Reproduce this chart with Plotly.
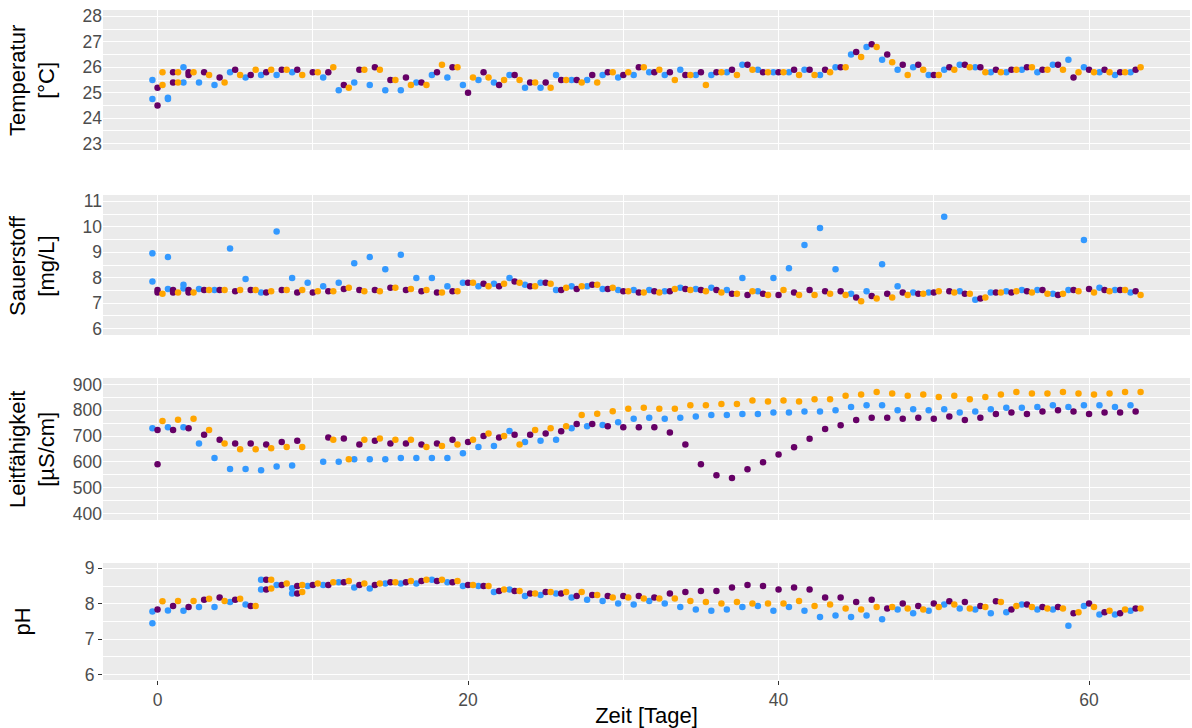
import plotly.graph_objects as go

# ---- data: daily readings (day 0 .. 63) for three sampling runs -------------
days = list(range(64))

# sampling runs: fraction of a day relative to the nominal day
run_shift = {"blue": -0.33, "purple": 0.0, "orange": 0.32}

temp_blue = [25.5, 24.8, 26.0, 25.4, 25.3, 25.8, 25.6, 25.7, 25.7, 25.8,
             None, 25.6, 25.1, 25.4, 25.3, 25.1, 25.1, 25.4, 25.7, 25.6,
             25.3, 25.5, 25.4, 25.7, 25.2, 25.2, 25.7, 25.5, 25.5, 25.7,
             25.6, 25.7, 25.8, 25.7, 25.9, 25.7, 25.7, 25.8, 26.1, 25.9,
             25.8, 25.8, 25.9, 25.7, 26.0, 26.5, 26.8, 26.3, 25.9, 26.0,
             25.7, 25.9, 26.1, 26.0, 25.8, 25.8, 25.9, 25.8, 26.1, 26.3,
             26.0, 25.8, 25.7, 25.8]
temp_purple = [25.2, 25.8, 25.8, 25.8, 25.6, 25.9, 25.7, 25.8, 25.9, 25.9,
               25.8, 25.8, 25.3, 25.9, 26.0, 25.5, 25.6, 25.4, 25.8, 26.0,
               25.0, 25.8, 25.3, 25.7, 25.4, 25.4, 25.5, 25.5, 25.7, 25.8,
               25.7, 26.0, 25.8, 25.8, 25.7, 25.8, 25.8, 25.9, 26.1, 25.8,
               25.8, 25.9, 25.9, 25.9, 26.0, 26.6, 26.9, 26.5, 26.1, 26.1,
               25.7, 26.0, 26.1, 26.0, 25.9, 25.9, 26.0, 25.9, 26.1, 25.6,
               25.9, 25.9, 25.8, 25.9]
temp_orange = [25.8, 25.8, 25.8, 25.7, 25.4, 25.7, 25.9, 25.9, 25.9, 25.7,
               25.8, 26.0, 25.2, 25.9, 25.9, 25.5, 25.3, 25.3, 26.1, 26.0,
               25.6, 25.6, 25.5, 25.5, 25.4, 25.2, 25.5, 25.4, 25.4, 25.8,
               25.8, 26.0, 25.9, 25.5, 25.7, 25.3, 25.8, 25.7, 25.9, 25.8,
               25.8, 25.7, 25.7, 25.8, 26.0, 26.4, 26.8, 26.2, 25.7, 25.9,
               25.7, 25.9, 26.0, 25.8, 25.8, 25.9, 26.0, 25.9, 25.9, 25.8,
               25.8, 25.8, 25.8, 26.0]
# repeated readings on single days: {day: value}
temp_blue_rep = {0: 24.75, 1: 24.75, 2: 25.4}
temp_purple_rep = {0: 24.5, 1: 25.4, 2: 25.7}
temp_orange_rep = {0: 25.3, 1: 25.4}

oxy_blue = [8.96, 8.81, 7.72, 7.56, 7.52, 9.15, 7.95, 7.42, 9.82, 7.99,
            7.80, 7.67, 7.80, 8.57, 8.81, 8.33, 8.90, 7.99, 7.99, 7.67,
            7.80, 7.67, 7.76, 7.99, 7.72, 7.80, 7.52, 7.67, 7.67, 7.56,
            7.52, 7.52, 7.52, 7.47, 7.61, 7.56, 7.61, 7.52, 7.99, 7.47,
            7.99, 8.37, 9.29, 9.95, 8.33, 7.37, 7.47, 8.53, 7.67, 7.42,
            7.42, 10.40, 7.47, 7.13, 7.42, 7.47, 7.52, 7.52, 7.37, 7.52,
            9.48, 7.61, 7.52, 7.42]
oxy_purple = [7.52, 7.52, 7.52, 7.52, 7.52, 7.47, 7.52, 7.42, 7.52, 7.42,
              7.42, 7.47, 7.56, 7.52, 7.52, 7.61, 7.52, 7.47, 7.42, 7.47,
              7.80, 7.76, 7.67, 7.85, 7.67, 7.80, 7.52, 7.56, 7.72, 7.56,
              7.47, 7.42, 7.47, 7.47, 7.56, 7.52, 7.52, 7.37, 7.32, 7.37,
              7.32, 7.42, 7.52, 7.47, 7.47, 7.22, 7.28, 7.37, 7.42, 7.37,
              7.42, 7.47, 7.37, 7.18, 7.42, 7.42, 7.47, 7.52, 7.32, 7.52,
              7.56, 7.52, 7.52, 7.47]
oxy_orange = [7.37, 7.42, 7.42, 7.52, 7.52, 7.52, 7.52, 7.47, 7.52, 7.52,
              7.47, 7.47, 7.61, 7.47, 7.47, 7.61, 7.56, 7.52, 7.42, 7.47,
              7.80, 7.67, 7.76, 7.80, 7.67, 7.76, 7.61, 7.67, 7.72, 7.61,
              7.47, 7.42, 7.42, 7.56, 7.52, 7.47, 7.42, 7.37, 7.47, 7.32,
              7.52, 7.32, 7.32, 7.37, 7.32, 7.08, 7.18, 7.22, 7.32, 7.37,
              7.47, 7.42, 7.37, 7.22, 7.42, 7.47, 7.42, 7.37, 7.37, 7.47,
              7.42, 7.47, 7.52, 7.32]
oxy_blue_rep = {0: 7.85, 1: 7.56, 2: 7.58}
oxy_purple_rep = {0: 7.42, 1: 7.42, 2: 7.42}
oxy_orange_rep = {}

cond_blue = [730, 734, 734, 671, 615, 573, 573, 568, 582, 586,
             None, 601, 601, 610, 610, 610, 615, 615, 615, 615,
             634, 658, 662, 720, 677, 682, 686, 730, 738, 743,
             754, 767, 771, 767, 771, 776, 782, 782, 786, 786,
             791, 791, 795, 795, 800, 813, 819, 819, 800, 804,
             800, 804, 791, 795, 804, 810, 810, 813, 819, 813,
             819, 819, 813, 819]
cond_purple = [724, 724, 730, 705, 686, 671, 671, 667, 677, 682,
               None, 695, 691, 667, 682, 671, 671, 667, 671, 686,
               677, 700, 695, 705, 705, 710, 719, 747, 747, 738,
               734, 734, 734, 714, 667, 591, 548, 538, 572, 599,
               629, 657, 690, 727, 742, 762, 771, 771, 767, 771,
               767, 776, 762, 771, 786, 791, 786, 795, 800, 795,
               786, 791, 791, 795]
cond_orange = [758, 763, 767, 724, 671, 649, 649, 653, 658, 658,
               None, 686, 610, 686, 691, 686, 686, 658, 662, 667,
               686, 710, 700, 667, 724, 730, 738, 782, 787, 796,
               806, 810, 806, 806, 819, 819, 824, 824, 838, 834,
               838, 834, 843, 843, 856, 861, 871, 865, 856, 861,
               851, 856, 843, 851, 861, 871, 865, 865, 871, 865,
               861, 865, 871, 871]
cond_blue_rep = {}
cond_purple_rep = {0: 591}
cond_orange_rep = {}

ph_blue = [7.78, 7.81, 7.80, 7.91, 7.91, 8.05, 7.98, 8.68, 8.53, 8.44,
           8.50, 8.53, 8.61, 8.46, 8.43, 8.57, 8.57, 8.57, 8.68, 8.61,
           8.50, 8.50, 8.33, 8.40, 8.22, 8.25, 8.29, 8.18, 8.11, 8.08,
           8.01, 7.98, 8.08, 8.01, 7.91, 7.84, 7.80, 7.84, 7.91, 7.94,
           7.80, 7.91, 7.80, 7.63, 7.67, 7.63, 7.67, 7.56, 7.84, 7.73,
           7.80, 7.98, 7.87, 7.84, 7.73, 7.76, 7.98, 7.84, 7.84, 7.38,
           7.94, 7.70, 7.70, 7.80]
ph_purple = [7.84, 7.94, 7.91, 8.11, 8.18, 8.11, 7.94, 8.68, 8.53, 8.50,
             8.53, 8.53, 8.61, 8.53, 8.53, 8.61, 8.61, 8.64, 8.64, 8.61,
             8.53, 8.50, 8.36, 8.36, 8.29, 8.33, 8.29, 8.22, 8.25, 8.22,
             8.22, 8.22, 8.18, 8.29, 8.33, 8.36, 8.36, 8.46, 8.53, 8.50,
             8.40, 8.46, 8.40, 8.18, 8.18, 8.05, 8.11, 7.87, 8.01, 7.94,
             8.01, 8.07, 8.05, 7.94, 8.07, 7.84, 7.98, 7.91, 7.91, 7.73,
             8.01, 7.76, 7.73, 7.87]
ph_orange = [8.07, 8.08, 8.08, 8.14, 8.08, 8.14, 7.94, 8.68, 8.57, 8.53,
             8.57, 8.61, 8.64, 8.57, 8.57, 8.61, 8.64, 8.68, 8.68, 8.64,
             8.53, 8.50, 8.40, 8.36, 8.29, 8.33, 8.33, 8.33, 8.25, 8.18,
             8.18, 8.15, 8.15, 8.15, 8.08, 8.05, 8.01, 8.05, 8.01, 8.01,
             8.01, 8.08, 7.94, 7.98, 7.87, 7.84, 7.91, 7.91, 7.87, 7.84,
             7.91, 7.98, 7.87, 7.91, 8.05, 7.94, 7.91, 7.87, 7.87, 7.76,
             7.91, 7.80, 7.84, 7.87]
ph_blue_rep = {0: 7.45, 7: 8.40, 9: 8.29}
ph_purple_rep = {7: 8.40, 9: 8.29}
ph_orange_rep = {7: 8.43, 9: 8.33}

# panel definitions: title, value lists, axis limits and major step
panels = [
    ("Temperatur<br>[°C]",
     {"blue": (temp_blue, temp_blue_rep), "purple": (temp_purple, temp_purple_rep),
      "orange": (temp_orange, temp_orange_rep)}, (23, 28), 1),
    ("Sauerstoff<br>[mg/L]",
     {"blue": (oxy_blue, oxy_blue_rep), "purple": (oxy_purple, oxy_purple_rep),
      "orange": (oxy_orange, oxy_orange_rep)}, (6, 11), 1),
    ("Leitfähigkeit<br>[µS/cm]",
     {"blue": (cond_blue, cond_blue_rep), "purple": (cond_purple, cond_purple_rep),
      "orange": (cond_orange, cond_orange_rep)}, (400, 900), 100),
    ("pH",
     {"blue": (ph_blue, ph_blue_rep), "purple": (ph_purple, ph_purple_rep),
      "orange": (ph_orange, ph_orange_rep)}, (6, 9), 1),
]

colors = {"blue": "#3399FF", "purple": "#660066", "orange": "#FFA500"}

# ---- figure -----------------------------------------------------------------
W, H = 1192, 728
ML, MR, MT, MB = 103, 2, 10, 48
plot_h = H - MT - MB
# panel pixel extents (top, bottom) measured from the top of the page
panel_px = [(10, 150), (195, 335), (378, 520), (563, 680)]
FONT = "Liberation Sans, Arial, sans-serif"
TICK_SIZE = 17.5
TITLE_SIZE = 22


def y_domain(top, bottom):
    return [1 - (bottom - MT) / plot_h, 1 - (top - MT) / plot_h]


# x range: data extent with 5 % padding on both sides
all_x = [d + s for s in run_shift.values() for d in days]
x_lo, x_hi = min(all_x), max(all_x)
pad = 0.05 * (x_hi - x_lo)
x_range = [x_lo - pad, x_hi + pad]

fig = go.Figure()
layout = {}
title_x = [32, 32, 32, 22]

for i, (title, series, (lo, hi), step) in enumerate(panels):
    n = i + 1
    xa = "x" if n == 1 else f"x{n}"
    ya = "y" if n == 1 else f"y{n}"
    for name in ["blue", "purple", "orange"]:
        vals, rep = series[name]
        xs = [d + run_shift[name] for d, v in zip(days, vals) if v is not None]
        ys = [v for v in vals if v is not None]
        xs += [d + run_shift[name] for d in rep]
        ys += list(rep.values())
        fig.add_trace(go.Scatter(
            x=xs, y=ys, mode="markers", xaxis=xa, yaxis=ya,
            marker=dict(color=colors[name], size=6.5, line=dict(width=0)),
            showlegend=False, hoverinfo="x+y"))

    ypad = 0.05 * (hi - lo)
    bottom = n == 4
    layout[f"xaxis{'' if n == 1 else n}"] = dict(
        domain=[0, 1], anchor=ya, range=x_range,
        tick0=0, dtick=20, showticklabels=bottom,
        ticks="outside" if bottom else "", ticklen=4, tickcolor="#333333",
        tickfont=dict(size=TICK_SIZE, color="#4D4D4D"),
        showgrid=True, gridcolor="white", gridwidth=1.1, zeroline=False,
        minor=dict(dtick=10, tick0=0, showgrid=True, gridcolor="white", gridwidth=0.55),
        showline=False,
        title=dict(text="Zeit [Tage]" if bottom else "",
                   font=dict(size=TITLE_SIZE, color="black"), standoff=2),
    )
    layout[f"yaxis{'' if n == 1 else n}"] = dict(
        domain=y_domain(*panel_px[i]), anchor=xa,
        range=[lo - ypad, hi + ypad], tick0=lo, dtick=step,
        ticks="outside" if bottom else "", ticklen=4, tickcolor="#333333",
        tickfont=dict(size=TICK_SIZE, color="#4D4D4D"),
        showgrid=True, gridcolor="white", gridwidth=1.1, zeroline=False,
        minor=dict(dtick=step / 2, showgrid=True, gridcolor="white", gridwidth=0.55),
        showline=False,
    )
    yd = y_domain(*panel_px[i])
    fig.add_annotation(
        text=title, textangle=-90, showarrow=False,
        xref="paper", yref="paper",
        x=(title_x[i] - ML) / (W - ML - MR), y=(yd[0] + yd[1]) / 2,
        xanchor="center", yanchor="middle",
        font=dict(size=TITLE_SIZE, color="black", family=FONT))

fig.update_layout(
    width=W, height=H,
    margin=dict(l=ML, r=MR, t=MT, b=MB),
    paper_bgcolor="white", plot_bgcolor="#EBEBEB",
    font=dict(family=FONT),
    showlegend=False,
    **layout,
)

fig.write_html("out.html")
